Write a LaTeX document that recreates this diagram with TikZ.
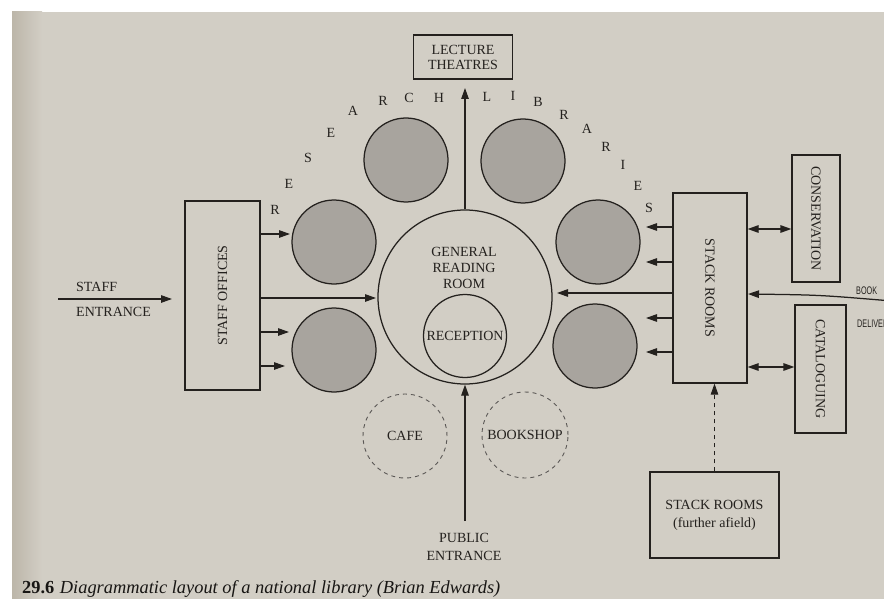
\documentclass[tikz,border=0pt]{standalone}
\usepackage{graphicx}
\usepackage{fontspec}
\setmainfont{Liberation Serif}
\newfontfamily\bookfont[FakeStretch=0.66]{Liberation Sans}
\usetikzlibrary{arrows.meta}
\definecolor{page}{RGB}{210,206,197}
\definecolor{pagedark}{RGB}{188,182,169}
\definecolor{ink}{RGB}{36,33,30}
\definecolor{fillgrey}{RGB}{168,164,158}
\begin{document}
\begin{tikzpicture}[x=1pt,y=-1pt,
  every node/.style={text=ink, font=\fontsize{14}{15}\selectfont, inner sep=0pt},
  box/.style={draw=ink, line width=1.25pt, rectangle},
  room/.style={draw=ink, line width=1.25pt, circle, inner sep=0pt},
  greyroom/.style={room, fill=fillgrey, minimum size=84pt},
  dashroom/.style={draw=ink!75, line width=0.9pt, circle, dash pattern=on 4pt off 4pt, minimum size=84pt},
  arr/.style={draw=ink, line width=1.25pt, -{Triangle[length=11pt,width=7.5pt]}},
  darr/.style={draw=ink, line width=1.25pt, {Triangle[length=11pt,width=7.5pt]}-{Triangle[length=11pt,width=7.5pt]}},
  arcletter/.style={font=\fontsize{14}{15}\selectfont},
]
\useasboundingbox (0,0) rectangle (884,599);
\clip (0,0) rectangle (884,599);
\fill[white] (0,0) rectangle (884,599);
\fill[page] (12,12) rectangle (884,599);
\shade[left color=pagedark, right color=page] (12,12) rectangle (42,599);

% lecture theatres
\node[box, minimum width=99pt, minimum height=44pt, align=center] (lecture) at (463,57) {LECTURE\\THEATRES};

% general reading room
\node[room, minimum size=174pt] (rr) at (465,297) {};
\node[align=center, font=\fontsize{14}{16}\selectfont] (grtext) at (464,268) {GENERAL\\READING\\ROOM};
\node[room, minimum size=83pt] (rec) at (465,336) {RECEPTION};

% research libraries
\node[greyroom] (c1) at (406,160) {};
\node[greyroom] (c2) at (523,161) {};
\node[greyroom] (c3) at (334,242) {};
\node[greyroom] (c4) at (334,350) {};
\node[greyroom] (c5) at (598,242) {};
\node[greyroom] (c6) at (595,346) {};

\foreach \ch/\x/\y in {R/275/210, E/289/184, S/308/158, E/331/133, A/353/111, R/383/101, C/409/98, H/439/98, L/487/97, I/513/96, B/538/102, R/564/115, A/587/129, R/606/147, I/623/165, E/638/186, S/649/208}
  \node[arcletter] (L-\x) at (\x,\y) {\ch};

% cafe and bookshop
\node[dashroom] (cafe) at (405,436) {CAFE};
\node[dashroom, minimum size=86pt] (shop) at (525,435) {BOOKSHOP};

% staff offices
\node[box, minimum width=75pt, minimum height=189pt] (staff) at (222.5,295.5) {\rotatebox{90}{STAFF OFFICES}};
\coordinate (se0) at (58,299);
\coordinate (se1) at (172,299);
\draw[arr] (se0) -- (se1);
\node[anchor=west] (staffT) at (76,287) {STAFF};
\node[anchor=west] (entT) at (76,312) {ENTRANCE};
\coordinate (a0) at (376,298);
\coordinate (a1) at (290,234);
\coordinate (a2) at (289,332);
\coordinate (a3) at (285,366);
\draw[arr] (staff.east |- a0) -- (a0);
\draw[arr] (staff.east |- a1) -- (a1);
\draw[arr] (staff.east |- a2) -- (a2);
\draw[arr] (staff.east |- a3) -- (a3);

% stack rooms
\node[box, minimum width=74pt, minimum height=190pt] (stack) at (710,288) {\rotatebox{-90}{STACK ROOMS}};
\coordinate (b0) at (557,293);
\coordinate (b1) at (646,227);
\coordinate (b2) at (646,262);
\coordinate (b3) at (646,318);
\coordinate (b4) at (646,352);
\draw[arr] (stack.west |- b0) -- (b0);
\draw[arr] (stack.west |- b1) -- (b1);
\draw[arr] (stack.west |- b2) -- (b2);
\draw[arr] (stack.west |- b3) -- (b3);
\draw[arr] (stack.west |- b4) -- (b4);

% conservation and cataloguing
\node[box, minimum width=48pt, minimum height=127pt] (cons) at (816,218.5) {\rotatebox{-90}{CONSERVATION}};
\node[box, minimum width=51pt, minimum height=128pt] (cat) at (820.5,369) {\rotatebox{-90}{CATALOGUING}};
\coordinate (d1) at (770,229);
\coordinate (d2) at (770,367);
\draw[darr] (stack.east |- d1) -- (cons.west |- d1);
\draw[darr] (stack.east |- d2) -- (cat.west |- d2);

% book delivery
\coordinate (bk) at (892,301);
\coordinate (bkend) at (748,294);
\draw[arr] (bk) .. controls (820,295) .. (bkend);
\node[anchor=west, font=\bookfont\fontsize{11}{12}\selectfont] (book) at (856,291) {BOOK};
\node[anchor=west, font=\bookfont\fontsize{11}{12}\selectfont] (deliv) at (857,324) {DELIVERY};

% stack rooms further afield
\node[box, minimum width=129pt, minimum height=86pt, align=center, font=\fontsize{14}{18}\selectfont] (far) at (714.5,515) {STACK ROOMS\\(further afield)};
\draw[arr, dash pattern=on 4pt off 4pt, line width=0.9pt] (far.north) -- (far.north |- stack.south);

% public entrance
\node[align=center, font=\fontsize{14}{18}\selectfont] (pub) at (464,547) {PUBLIC\\ENTRANCE};
\coordinate (p0) at (465,521);
\draw[arr] (p0) -- (rr.south);
\coordinate (lt) at (465,88);
\draw[arr] (rr.north) -- (lt);

% caption
\node[anchor=base west, font=\fontsize{18.4}{20}\selectfont, text={rgb,255:red,24;green,22;blue,20}] (cap) at (22,593) {\textbf{29.6}\hspace{0.3em}\textit{Diagrammatic layout of a national library (Brian Edwards)}};
\end{tikzpicture}
\end{document}
